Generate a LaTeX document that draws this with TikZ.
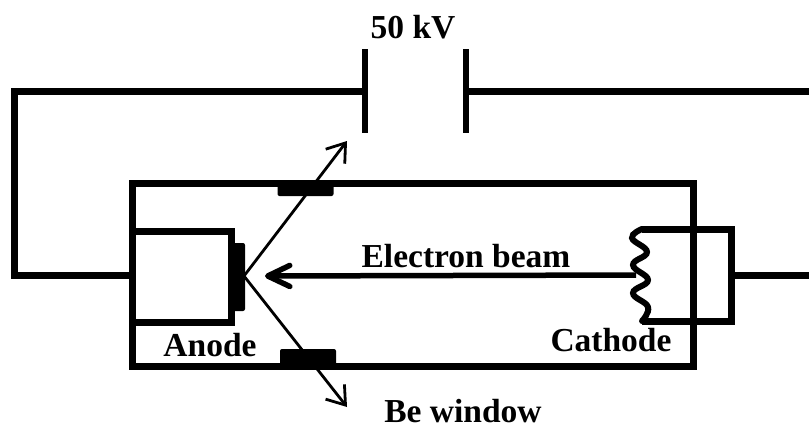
\documentclass[tikz,border=0pt]{standalone}
\usepackage{fontspec}
\setmainfont{Liberation Serif}
\usetikzlibrary{arrows.meta}
\begin{document}
\begin{tikzpicture}[x=1pt,y=-1pt,line join=miter]
        % Styles
        \tikzstyle{wire}=[line width=7pt]
        \tikzstyle{plate}=[line width=6pt]
        \tikzstyle{solid part}=[fill=black,rounded corners=2pt]
        \tikzstyle{ray}=[line width=2.8pt,-{Straight Barb[length=17pt,width=24pt,line width=2.8pt]}]
        \tikzstyle{beam}=[line width=5.5pt,-{Straight Barb[length=22pt,width=21pt,line width=5.5pt,round]}]
        \tikzstyle{label text}=[font=\bfseries\fontsize{33.5}{36}\selectfont,inner sep=0pt]
        \useasboundingbox (0,0) rectangle (809,424);
        %points
        \coordinate (plate left) at (364.5,91);
        \coordinate (plate right) at (465.5,91);
        \coordinate (anode wire) at (132,275);
        \coordinate (cathode wire) at (731,275);
        \coordinate (target) at (244,276);
        \coordinate (filament mid) at (636,275);
        \coordinate (top exit) at (347,141);
        \coordinate (bottom exit) at (347,407);
        \coordinate (beam tip) at (265,276);
        %tube
        \draw[wire] (132.5,183) rectangle (693,366.5);
        \draw[wire] (132.5,231) -- (231,231) -- (231,322.5) -- (132.5,322.5);
        \fill[solid part] (229,243) rectangle (245,311);
        \fill[solid part] (277.5,180) rectangle (333.5,196);
        \fill[solid part] (280,349) rectangle (336,369);
        %cathode
        \draw[wire] (642,229) -- (731,229) -- (731,321) -- (642,321);
        \draw[line width=6pt,line cap=round] plot[smooth,tension=0.75] coordinates {(642,229) (632,238) (647,252) (633,265) (648,280) (633,293) (648,307) (642,321)};
        %circuit
        \draw[wire] (anode wire) -- (14.5,275) -- (14.5,91) -- (plate left);
        \draw[wire] (plate right) -- (809,91);
        \draw[wire] (cathode wire) -- (809,275);
        \draw[plate] (364.5,49) -- (364.5,132.5);
        \draw[plate] (465.5,49) -- (465.5,132.5);
        %rays
        \draw[ray] (target) -- (top exit);
        \draw[ray] (target) -- (bottom exit);
        \draw[beam] (filament mid) -- (beam tip);
        %labels
        \node[label text] (voltage) at (413,27) {50 kV};
        \node[label text] (beam label) at (466,256) {Electron beam};
        \node[label text] (anode label) at (210,345) {Anode};
        \node[label text] (cathode label) at (611,340) {Cathode};
        \node[label text] (window label) at (463,411.5) {Be window};
    \end{tikzpicture}
\end{document}
